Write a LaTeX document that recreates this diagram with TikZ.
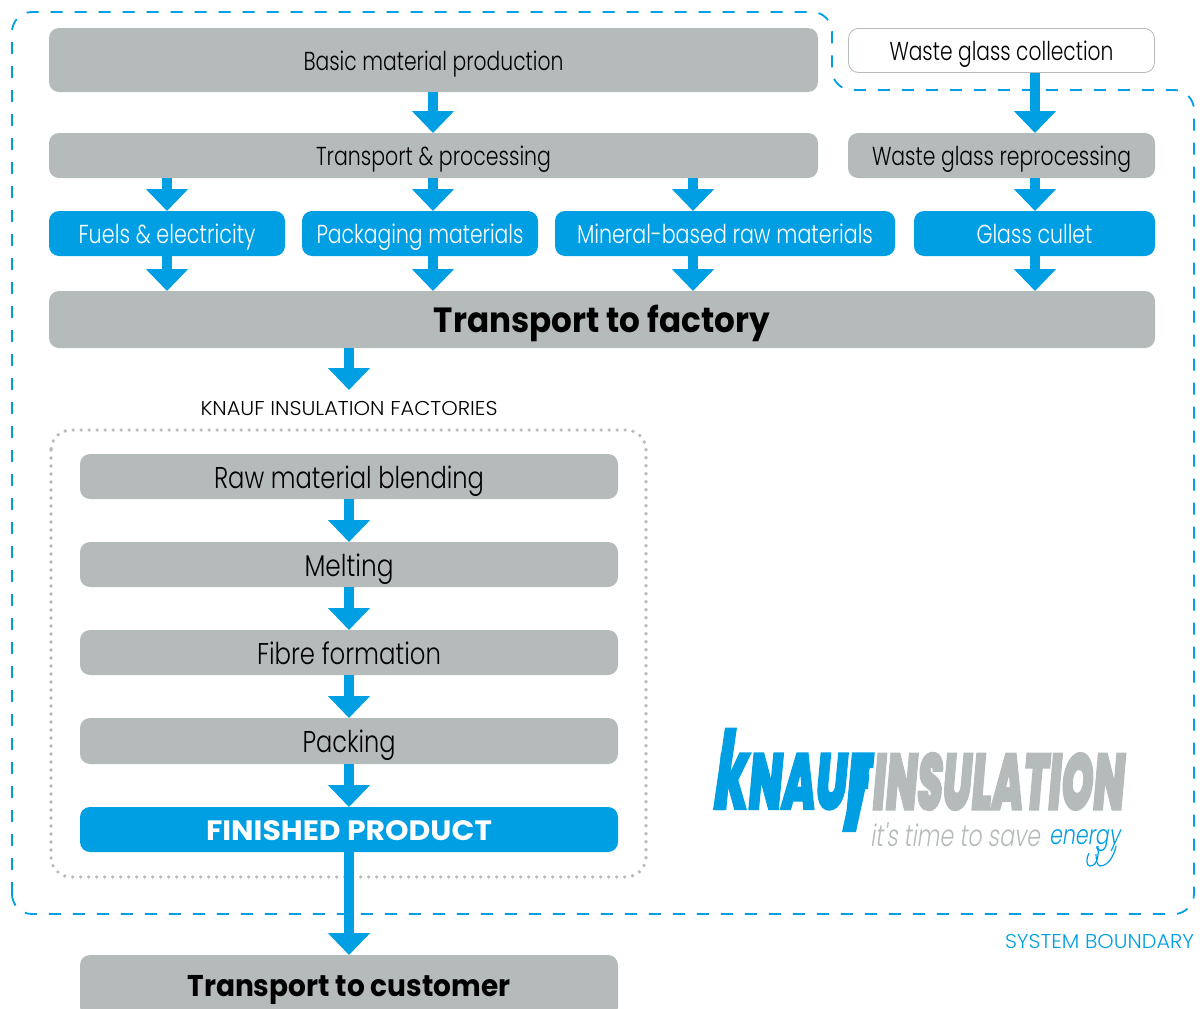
\documentclass[tikz,border=0pt]{standalone}
\usepackage{fontspec}
\usepackage{graphicx}
\setmainfont{Poppins Light}[BoldFont={Poppins Bold}]
\newfontfamily\logofont{Poppins Black}[FakeSlant=0.17,FakeBold=2.5]
\newfontfamily\tagfont{Poppins Light}[FakeSlant=0.2]
\usetikzlibrary{arrows.meta}
\definecolor{kblue}{HTML}{009FE3}
\definecolor{kgrey}{HTML}{B5BABB}
\newcommand\fit[3]{\fontsize{#1}{#1}\selectfont\sbox0{#3}\pgfmathsetmacro\fitratio{#2/\the\wd0}\scalebox{\fitratio}[1]{#3}}
\tikzset{
  x=1pt,y=-1pt,
  box/.style={rounded corners=10pt,inner sep=0pt,outer sep=0pt,anchor=north west,align=center,text depth=4pt,text height=24pt},
  greybox/.style={box,fill=kgrey,text=black},
  bluebox/.style={box,fill=kblue,text=white},
  whitebox/.style={box,fill=white,draw=kgrey,line width=0.8pt,text=black},
  flow/.style={draw=kblue,line width=10.5pt,-{Triangle[width=41pt,length=22pt,color=kblue]}},
  boundary/.style={draw=kblue,line width=1.8pt,dash pattern=on 12pt off 12pt,rounded corners=20pt},
  dotbox/.style={draw=kgrey,line width=3.7pt,line cap=round,dash pattern=on 0pt off 8pt,rounded corners=20pt},
  plain/.style={inner sep=0pt,outer sep=0pt}
}
\begin{document}
\begin{tikzpicture}
\useasboundingbox (0,0) rectangle (1200,1009);
% system boundary
\draw[boundary] (12,914) -- (12,12) -- (832,12) -- (832,90) -- (1194,90) -- (1194,914) -- cycle;
% dotted factory box
\draw[dotbox] (51,430) rectangle (646,877);
% boxes
\node[greybox,minimum width=769pt,minimum height=64pt] (basic) at (49,28) {\fit{26}{260}{Basic material production}};
\node[whitebox,minimum width=306pt,minimum height=44pt] (collect) at (848.5,28.5) {\fit{26}{224}{Waste glass collection}};
\node[greybox,minimum width=769pt,minimum height=45pt] (tproc) at (49,133) {\fit{26}{235}{Transport \& processing}};
\node[greybox,minimum width=307pt,minimum height=45pt] (reproc) at (848,133) {\fit{26}{259}{Waste glass reprocessing}};
\node[bluebox,minimum width=236pt,minimum height=45pt] (fuels) at (49,211) {\fit{26}{177}{Fuels \& electricity}};
\node[bluebox,minimum width=236pt,minimum height=45pt] (pack) at (302,211) {\fit{26}{207}{Packaging materials}};
\node[bluebox,minimum width=340pt,minimum height=45pt] (mineral) at (555,211) {\fit{26}{296}{Mineral-based raw materials}};
\node[bluebox,minimum width=241pt,minimum height=45pt] (cullet) at (914,211) {\fit{26}{116}{Glass cullet}};
\node[greybox,text height=29pt,minimum width=1106pt,minimum height=57pt] (factory) at (49,291) {\fit{35}{336}{\bfseries Transport to factory}};
\node[plain,minimum width=298pt,minimum height=36pt] (klabel) at (349,408) {\fit{20}{297}{KNAUF INSULATION FACTORIES}};
\node[greybox,text height=27pt,minimum width=538pt,minimum height=45pt] (raw) at (80,454) {\fit{30}{270}{Raw material blending}};
\node[greybox,text height=27pt,minimum width=538pt,minimum height=45pt] (melt) at (80,542) {\fit{30}{89}{Melting}};
\node[greybox,text height=27pt,minimum width=538pt,minimum height=45pt] (fibre) at (80,630) {\fit{30}{184}{Fibre formation}};
\node[greybox,text height=27pt,minimum width=538pt,minimum height=46pt] (packing) at (80,718) {\fit{30}{93}{Packing}};
\node[bluebox,text height=26pt,minimum width=538pt,minimum height=45pt] (finished) at (80,807) {\fit{28}{286}{\bfseries FINISHED PRODUCT}};
\node[greybox,text height=25pt,minimum width=538pt,minimum height=62pt] (customer) at (80,955) {\fit{30}{323}{\bfseries Transport to customer}};
\node[plain,text=kblue,anchor=east] (sysb) at (1194,941) {\fit{20}{189}{SYSTEM BOUNDARY}};
% connectors
\coordinate (a1) at (433,0);
\coordinate (a2) at (167,0);
\coordinate (a3) at (693,0);
\coordinate (a4) at (1035,0);
\draw[flow] (basic.south -| a1) -- (tproc.north -| a1);
\draw[flow] (collect.south -| a4) -- (reproc.north -| a4);
\draw[flow] (tproc.south -| a2) -- (fuels.north -| a2);
\draw[flow] (tproc.south -| a1) -- (pack.north -| a1);
\draw[flow] (tproc.south -| a3) -- (mineral.north -| a3);
\draw[flow] (reproc.south -| a4) -- (cullet.north -| a4);
\draw[flow] (fuels.south -| a2) -- (factory.north -| a2);
\draw[flow] (pack.south -| a1) -- (factory.north -| a1);
\draw[flow] (mineral.south -| a3) -- (factory.north -| a3);
\draw[flow] (cullet.south -| a4) -- (factory.north -| a4);
\draw[flow] (factory.south -| klabel.north) -- (klabel.north);
\draw[flow] (raw.south) -- (melt.north);
\draw[flow] (melt.south) -- (fibre.north);
\draw[flow] (fibre.south) -- (packing.north);
\draw[flow] (packing.south) -- (finished.north);
\draw[flow] (finished.south) -- (customer.north);
% logo
\fill[kblue] (713,810) -- (725,727.5) -- (737,727.5) -- (725,810) -- cycle;
\fill[kblue] (859,753) -- (873,753) -- (856,832) -- (842,832) -- cycle;
\node[plain,text=kblue,anchor=west] (lk) at (714,781.5) {\logofont\fit{79}{156}{KNAUF}};
\node[plain,text=kgrey,anchor=west] (li) at (871,781.5) {\logofont\fit{79}{252}{INSULATION}};
\node[plain,text=kgrey,anchor=base west] (lt) at (870,846) {\tagfont\fit{30}{170}{it's time to save}};
\node[plain,text=kblue,anchor=base west] (le) at (1049,844) {\tagfont\fit{27}{71}{energy}};
\draw[kblue,line width=1.2pt] (1098,846) .. controls (1099,856) and (1097,866) .. (1090,866) .. controls (1086,866) and (1086,858) .. (1089,853);
\draw[kblue,line width=1.2pt] (1116,846) .. controls (1114,856) and (1108,866) .. (1100,866) .. controls (1097,865) and (1096,860) .. (1096,854);
\end{tikzpicture}
\end{document}
